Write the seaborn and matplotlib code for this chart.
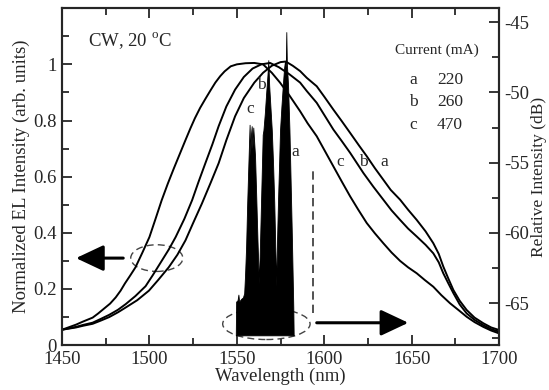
import numpy as np
import seaborn as sns
import matplotlib
matplotlib.use("Agg")
import matplotlib.pyplot as plt
from matplotlib.patches import Ellipse
from matplotlib.ticker import MultipleLocator, FormatStrFormatter

### EL spectra (left axis, normalized) ###
wl_a = [1450, 1458, 1462, 1467.5, 1472, 1477, 1482, 1486.4, 1493, 1499.7, 1505, 1511, 1516, 1520.6,
        1525, 1530, 1535, 1539.6, 1544, 1549, 1554, 1560, 1565, 1570, 1575, 1578, 1582, 1586.2,
        1590, 1595.7, 1600, 1605.2, 1610, 1614.8, 1620, 1624.3, 1629, 1633.8, 1638, 1643.4, 1648,
        1652.9, 1658, 1662.4, 1665.5, 1668.1, 1671, 1673.9, 1677.5, 1681.5, 1686, 1691, 1695.5, 1700]
el_a = [0.055, 0.063, 0.069, 0.076, 0.087, 0.100, 0.117, 0.134, 0.160, 0.194, 0.232, 0.277, 0.322,
        0.373, 0.435, 0.504, 0.578, 0.648, 0.73, 0.815, 0.88, 0.935, 0.97, 0.995, 1.008, 1.01, 0.995,
        0.976, 0.952, 0.922, 0.885, 0.839, 0.798, 0.756, 0.71, 0.673, 0.63, 0.589, 0.553, 0.518,
        0.482, 0.446, 0.405, 0.363, 0.325, 0.28, 0.237, 0.196, 0.158, 0.125, 0.098, 0.078, 0.063, 0.054]

wl_b = [1450, 1458, 1462, 1467.5, 1472, 1477, 1482, 1486.4, 1492, 1497.8, 1502, 1507, 1511, 1515,
        1520, 1524.4, 1528, 1532, 1536, 1539.6, 1544, 1549, 1554, 1559, 1564, 1569, 1574, 1580,
        1586.2, 1590, 1595.7, 1600, 1605.2, 1610, 1614.8, 1618.5, 1622.4, 1628, 1633.8, 1638.5,
        1643.4, 1648, 1652.9, 1658, 1662.4, 1665.5, 1668.1, 1671, 1673.9, 1677.5, 1681.5, 1686,
        1691, 1695.5, 1700]
el_b = [0.055, 0.065, 0.072, 0.080, 0.093, 0.108, 0.126, 0.146, 0.175, 0.21, 0.25, 0.30, 0.34,
        0.385, 0.45, 0.516, 0.58, 0.648, 0.715, 0.78, 0.85, 0.91, 0.955, 0.985, 1.0, 1.005, 0.99,
        0.965, 0.935, 0.905, 0.863, 0.82, 0.768, 0.727, 0.685, 0.65, 0.613, 0.565, 0.518, 0.48,
        0.446, 0.415, 0.387, 0.357, 0.327, 0.295, 0.256, 0.22, 0.185, 0.145, 0.113, 0.09,
        0.071, 0.057, 0.048]

wl_c = [1450, 1458, 1462, 1467.5, 1470.5, 1474, 1477.5, 1480.7, 1483.5, 1486, 1489, 1492, 1496,
        1500, 1503.5, 1507, 1510.5, 1514, 1517.5, 1520.6, 1523.5, 1526, 1529, 1532, 1535, 1537.7,
        1540.5, 1543, 1546.5, 1550, 1555, 1560, 1565, 1570, 1574.7, 1580, 1586.2, 1590.5, 1595.7,
        1600.5, 1605.2, 1610, 1614.8, 1619.5, 1624.3, 1629, 1633.8, 1638.5, 1643.4, 1648, 1652.9,
        1657.5, 1662.4, 1667, 1672, 1677, 1681.5, 1686, 1691, 1695.5, 1700]
el_c = [0.055, 0.073, 0.084, 0.098, 0.112, 0.13, 0.148, 0.17, 0.194, 0.22, 0.248, 0.277, 0.33,
        0.385, 0.45, 0.516, 0.575, 0.63, 0.683, 0.73, 0.773, 0.808, 0.845, 0.877, 0.908, 0.935,
        0.958, 0.975, 0.993, 1.0, 1.004, 1.005, 1.0, 0.97, 0.935, 0.89, 0.833, 0.79, 0.744,
        0.69, 0.637, 0.583, 0.53, 0.482, 0.435, 0.398, 0.363, 0.33, 0.30, 0.277, 0.256,
        0.232, 0.208, 0.178, 0.149, 0.124, 0.101, 0.082, 0.065, 0.052, 0.042]

### Lasing spectrum (right axis, dB) ###
spec_wl = [1549.4, 1549.6, 1550.4, 1550.9, 1551.3, 1552.5, 1553.5, 1554.2, 1554.7, 1555.3, 1555.9,
           1556.5, 1557.0, 1557.3, 1557.7, 1558.1, 1558.5, 1558.9, 1559.4, 1559.9, 1560.4, 1561.0,
           1561.8, 1562.6, 1563.2, 1563.9, 1564.5, 1564.8, 1565.2, 1566.0, 1566.8, 1567.5, 1568.0,
           1568.5, 1569.2, 1570.0, 1570.7, 1571.4, 1572.0, 1572.5, 1573.0, 1573.6, 1574.2, 1574.7,
           1575.5, 1576.3, 1577.0, 1577.5, 1578.0, 1578.3, 1578.6, 1579.3, 1580.1, 1580.8, 1581.4,
           1582.3, 1582.5]
spec_db = [-67.2, -64.9, -64.8, -64.4, -64.9, -64.7, -64.6, -64.3, -63.0, -61.0, -58.0,
           -55.5, -53.5, -52.3, -54.5, -53.0, -52.4, -54.0, -52.5, -53.5, -54.5, -57.0,
           -60.5, -63.6, -61.0, -57.5, -54.5, -53.0, -52.7, -51.5, -50.0, -48.8, -47.7,
           -49.5, -51.0, -52.7, -55.0, -57.8, -61.0, -63.8, -60.5, -57.5, -55.0, -52.7,
           -51.0, -49.5, -48.3, -47.8, -48.2, -45.7, -47.9, -49.5, -52.7, -56.5, -59.8,
           -65.3, -67.2]

currents = ["220", "260", "470"]
names = ["a", "b", "c"]

sns.set_style("ticks")
plt.rcParams['font.family'] = ['Liberation Serif', 'DejaVu Serif']
plt.rcParams['mathtext.fontset'] = 'custom'
plt.rcParams['mathtext.rm'] = 'Liberation Serif'
plt.rcParams['axes.unicode_minus'] = False

fig, ax = plt.subplots(figsize=(5.49, 3.9), dpi=100)
fig.subplots_adjust(left=0.113, right=0.909, bottom=0.115, top=0.979)

for wl, el in [(wl_a, el_a), (wl_b, el_b), (wl_c, el_c)]:
    sns.lineplot(x=wl, y=el, ax=ax, color='black', lw=1.4, sort=False)

ax.set_xlim(1450, 1700)
ax.set_ylim(0, 1.2)
ax.set_yticks([0, 0.2, 0.4, 0.6, 0.8, 1.0])
ax.yaxis.set_minor_locator(MultipleLocator(0.1))
ax.yaxis.set_major_formatter(FormatStrFormatter('%g'))
ax.xaxis.set_major_locator(MultipleLocator(50))
ax.xaxis.set_minor_locator(MultipleLocator(25))
ax.tick_params(which='both', direction='in', top=True, right=False, width=1.3, labelsize=13.5, pad=4)
ax.tick_params(which='major', length=7)
ax.tick_params(which='minor', length=5)
ax.set_xlabel("Wavelength (nm)", fontsize=13.5, labelpad=0)
ax.set_ylabel("Normalized EL Intensity (arb. units)", fontsize=13.5, labelpad=2)
for s in ax.spines.values():
    s.set_linewidth(1.5)
    s.set_visible(True)

ax2 = ax.twinx()
ax2.fill_between(spec_wl, spec_db, -67.3, color='black', lw=0.6, edgecolor='black')
ax2.set_ylim(-68, -44)
ax2.yaxis.set_major_locator(MultipleLocator(5))
ax2.yaxis.set_minor_locator(MultipleLocator(2.5))
ax2.yaxis.set_major_formatter(FormatStrFormatter('%g'))
ax2.tick_params(which='both', direction='in', width=1.3, labelsize=13.5, pad=4)
ax2.tick_params(which='major', length=7)
ax2.tick_params(which='minor', length=5)
ax2.set_ylabel("Relative Intensity (dB)", fontsize=12.5, labelpad=1)
for s in ax2.spines.values():
    s.set_linewidth(1.5)

# annotations
ax.text(1465, 1.064, r"CW, 20 $^{\rm o}$C", fontsize=13.5)
ax.text(1664.5, 1.036, "Current (mA)", fontsize=11, ha='center')
for i, (n, c) in enumerate(zip(names, currents)):
    yy = [0.929, 0.85, 0.768][i]
    ax.text(1650.8, yy, n, fontsize=12.5, ha='center')
    ax.text(1672, yy, c, fontsize=12.5, ha='center')

ax.text(1557.6, 0.828, "c", fontsize=12.5, ha='center')
ax.text(1564.2, 0.911, "b", fontsize=12.5, ha='center')
ax.text(1583.3, 0.673, "a", fontsize=12.5, ha='center')
ax.text(1609.4, 0.637, "c", fontsize=12.5, ha='center')
ax.text(1622.4, 0.637, "b", fontsize=12.5, ha='center')
ax.text(1634.2, 0.637, "a", fontsize=12.5, ha='center')

ax.vlines(1593.5, 0.113, 0.625, colors='#333333', linestyles=(0, (5, 3)), lw=1.2)
ax.add_patch(Ellipse((1504.2, 0.31), 29.8, 0.095, fill=False, ls=(0, (5, 3)), lw=1, ec='#444444'))
ax.add_patch(Ellipse((1566.9, 0.0755), 50, 0.111, fill=False, ls=(0, (5, 3)), lw=1, ec='#444444', zorder=5))

arrow = dict(arrowstyle='-|>,head_length=0.85,head_width=0.4', color='black', lw=2.2,
             shrinkA=0, shrinkB=0, mutation_scale=20)
ax.annotate('', xy=(1458, 0.31), xytext=(1485, 0.31), arrowprops=arrow)
ax.annotate('', xy=(1648.1, 0.0797), xytext=(1595.7, 0.0797), arrowprops=arrow)

fig.savefig("out.png", dpi=100)
